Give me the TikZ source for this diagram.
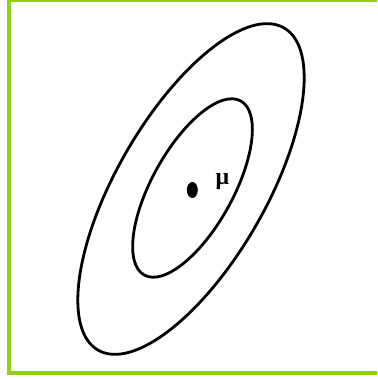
\documentclass[tikz,border=0pt]{standalone}
\usepackage{fontspec}
\newfontfamily\muf{Liberation Serif}
\definecolor{framegreen}{RGB}{146,208,20}
\tikzset{
  contour/.style={draw=black, line width=2.8pt},
  framestyle/.style={draw=framegreen, line width=4pt},
}
\begin{document}
\begin{tikzpicture}[x=1pt,y=1pt]
\clip (0,0) rectangle (377,379);
\useasboundingbox (0,0) rectangle (377,379);
% frame
\draw[framestyle] (9,379) -- (9,6) -- (390,6);
\draw[framestyle] (9,379) -- (390,379);
% contours
\coordinate (co) at (191,190);
\coordinate (ci) at (192.5,191);
\draw[contour, rotate around={60:(co)}] (co) ellipse [x radius=186, y radius=74.5];
\draw[contour, rotate around={61:(ci)}] (ci) ellipse [x radius=99.5, y radius=40.5];
% mean
\coordinate (m) at (192.3,189);
\fill[black] (m) ellipse [x radius=5.5, y radius=8];
\node[inner sep=0pt, font=\muf\bfseries\fontsize{24}{28}\selectfont] (mu) at (222.5,197) {μ};
\end{tikzpicture}
\end{document}
